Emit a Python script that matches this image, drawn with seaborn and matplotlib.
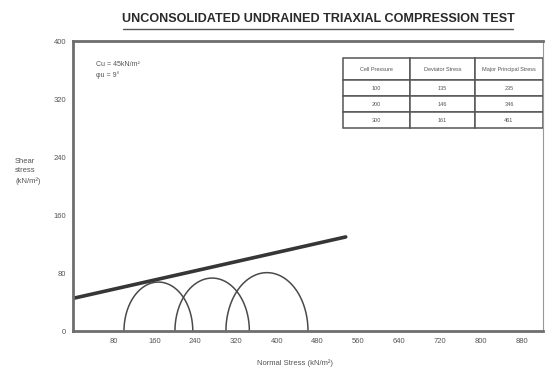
import numpy as np
import pandas as pd
import matplotlib
matplotlib.use("Agg")
import matplotlib.pyplot as plt
import seaborn as sns

# Triaxial test results (kN/m^2)
cell_pressure = [100, 200, 300]
deviator_stress = [135, 146, 161]
major_principal = [235, 346, 461]

# Failure envelope parameters
cohesion_cu = 45
phi_u_deg = 9
envelope_x_end = 535

x_ticks = [80, 160, 240, 320, 400, 480, 560, 640, 720, 800, 880]
y_ticks = [0, 80, 160, 240, 320, 400]

sns.set_theme(style="white")
plt.rcParams["font.family"] = ["Liberation Sans", "DejaVu Sans"]

fig = plt.figure(figsize=(5.48, 3.76), dpi=100)
ax = fig.add_axes([73 / 548, 1 - 331 / 376, 470 / 548, 290 / 376])

line_col = "#4a4a4a"

# Mohr circles (upper halves) built from sigma3 / sigma1
theta = np.linspace(0, np.pi, 200)
rows = []
for i, (s3, s1) in enumerate(zip(cell_pressure, major_principal)):
    c = (s3 + s1) / 2
    r = (s1 - s3) / 2
    for t in theta:
        rows.append({"test": i, "sigma": c + r * np.cos(t), "tau": r * np.sin(t)})
circles = pd.DataFrame(rows)
sns.lineplot(data=circles, x="sigma", y="tau", units="test", estimator=None,
             sort=False, color=line_col, lw=1.1, ax=ax)

# Strength envelope tau = cu + sigma * tan(phi)
env = pd.DataFrame({"sigma": [0, envelope_x_end]})
env["tau"] = cohesion_cu + env["sigma"] * np.tan(np.radians(phi_u_deg))
sns.lineplot(data=env, x="sigma", y="tau", color="#363636", lw=2.6, ax=ax)

ax.set_xlim(0, 922)
ax.set_ylim(0, 400)
ax.set_xticks(x_ticks)
ax.set_xticklabels([str(v) for v in x_ticks])
ax.set_yticks(y_ticks)
ax.set_yticklabels([str(v) for v in y_ticks])
ax.tick_params(axis="x", direction="in", length=12, width=0.9, color="#6e6e6e",
               labelsize=5.5, labelcolor="#555555", pad=5)
ax.tick_params(axis="y", direction="in", length=4, width=0.8, color="#888888",
               labelsize=5.5, labelcolor="#555555", pad=5)
ax.set_xlabel("")
ax.set_ylabel("")

for side in ["left", "bottom", "top"]:
    ax.spines[side].set_color("#6e6e6e")
    ax.spines[side].set_linewidth(2.0)
ax.spines["right"].set_color("#999999")
ax.spines["right"].set_linewidth(0.8)

# Axis titles
fig.text(15 / 548, 1 - 158 / 376, "Shear\nstress\n(kN/m²)", fontsize=5.5,
         color="#555555", ha="left", va="top", linespacing=1.5)
fig.text(295 / 548, 1 - 363 / 376, "Normal Stress (kN/m²)", fontsize=5.5,
         color="#555555", ha="center", va="center")

# Chart title, underlined
fig.text(318 / 548, 1 - 19 / 376,
         "UNCONSOLIDATED UNDRAINED TRIAXIAL COMPRESSION TEST",
         fontsize=9.1, fontweight="bold", color="#2a2a2a",
         ha="center", va="center",
         family=["Liberation Sans Narrow", "Liberation Sans", "DejaVu Sans"])
fig.add_artist(plt.Line2D([123 / 548, 513 / 548], [1 - 29 / 376, 1 - 29 / 376],
                          color="#555555", lw=1.0, transform=fig.transFigure))

# Strength parameters
ax.text(0.05, 0.93, f"Cu = {cohesion_cu}kN/m²\nφu = {phi_u_deg}°", transform=ax.transAxes,
        fontsize=5, color="#555555", ha="left", va="top", linespacing=1.6)

# Results table
cell_text = [[str(a), str(b), str(c)] for a, b, c in
             zip(cell_pressure, deviator_stress, major_principal)]
tbl = ax.table(cellText=cell_text,
               colLabels=["Cell Pressure", "Deviator Stress", "Major Principal Stress"],
               colWidths=[67 / 200, 65 / 200, 68 / 200],
               cellLoc="center", bbox=[0.574, 0.70, 0.426, 0.241])
tbl.auto_set_font_size(False)
for (r, c), cell in tbl.get_celld().items():
    cell.set_edgecolor("#555555")
    cell.set_linewidth(1.1)
    cell.set_height(22 / 70 if r == 0 else 16 / 70)
    cell.get_text().set_fontsize(4)
    cell.get_text().set_color("#555555")

fig.savefig("out.png", dpi=100)
